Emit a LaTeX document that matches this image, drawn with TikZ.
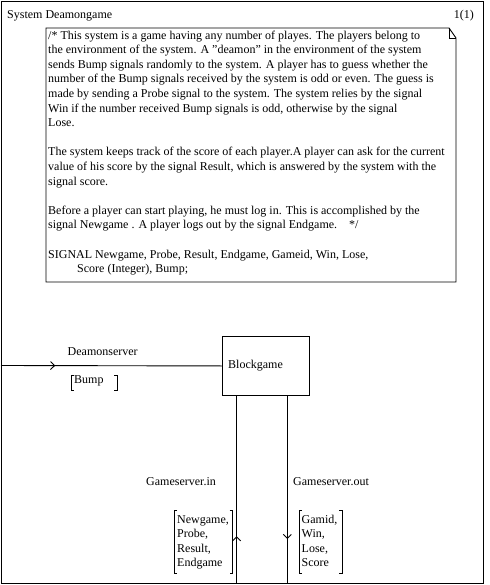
\documentclass[tikz,border=0pt]{standalone}
\usepackage{fontspec}
\setmainfont{Liberation Serif}
\usetikzlibrary{arrows.meta,positioning,decorations.markings}

\tikzset{
  sdl/.style={line width=0.9pt},
  txt/.style={inner sep=0pt, anchor=base west, align=left, font=\fontsize{12}{14.6}\selectfont},
  brk/.style={line width=0.9pt},
  chan/.style={line width=0.9pt, postaction={decorate}},
  tipat/.style={decoration={markings, mark=at position #1 with {\arrow{Straight Barb[length=4pt,width=8pt]}}}},
}

\begin{document}
\begin{tikzpicture}[x=1pt, y=-1pt]
\useasboundingbox (0,0) rectangle (489,585);
% system frame
\draw[sdl] (1,1) rectangle (483,583);
\node[txt] (sysname) at (7,19) {System Deamongame};
\node[txt, anchor=base east] (page) at (474,19) {1(1)};

% comment symbol with folded corner
\draw[sdl] (46,28) -- (449,28) -- (456,38) -- (456,282) -- (46,282) -- cycle;
\draw[sdl] (449,28) -- (449,38) -- (456,38);
% (base of a multi-line node is its last line)
\node[txt] (comment) at (48,272.6) {/* This system is a game having any number of playes. The players belong to\\
the environment of the system. A \char"22deamon\char"22{} in the environment of the system\\
sends Bump signals randomly to the system. A player has to guess whether the\\
number of the Bump signals received by the system is odd or even. The guess is\\
made by sending a Probe signal to the system. The system relies by the signal\\
Win if the number received Bump signals is odd, otherwise by the signal\\
Lose.\\[14.6pt]
The system keeps track of the score of each player.A player can ask for the current\\
value of his score by the signal Result, which is answered by the system with the\\
signal score.\\[14.6pt]
Before a player can start playing, he must log in. This is accomplished by the\\
signal Newgame . A player logs out by the signal Endgame.\hspace{12pt}*/\\[14.6pt]
SIGNAL Newgame, Probe, Result, Endgame, Gameid, Win, Lose,\\
\hspace*{29pt}Score (Integer), Bump;};

% block
\node[draw, sdl, inner sep=0pt, minimum width=87pt, minimum height=59pt, anchor=north west] (block) at (222,336) {};
\node[txt, anchor=west, right=6pt of block.west] (blockname) {Blockgame};

% channels
\coordinate (envL) at (1,365.5);
\coordinate (inB) at (236.7,583);
\coordinate (outB) at (287.3,583);
\draw[chan, tipat=0.245] (envL) -- (block.west);
\draw[chan, tipat=0.25] (inB) -- (block.south -| inB);
\draw[chan, tipat=0.765] (block.south -| outB) -- (outB);

% channel names and signal lists
\node[txt] (dsname) at (67.5,355) {Deamonserver};
\node[txt] (bump) at (74,383) {Bump};
\draw[brk] (74,375) -- (71,375) -- (71,390) -- (74,390);
\draw[brk] (114,375) -- (117,375) -- (117,390) -- (114,390);

\node[txt] (inname) at (146,485) {Gameserver.in};
\node[txt] (outname) at (293,485) {Gameserver.out};

\node[txt] (inlist) at (177,566.8) {Newgame,\\Probe,\\Result,\\Endgame};
\draw[brk] (177,510) -- (174,510) -- (174,573) -- (177,573);
\draw[brk] (229.5,510) -- (232.5,510) -- (232.5,573) -- (229.5,573);

\node[txt] (outlist) at (301.5,566.8) {Gamid,\\Win,\\Lose,\\Score};
\draw[brk] (302,510) -- (299,510) -- (299,573) -- (302,573);
\draw[brk] (339,510) -- (342,510) -- (342,573) -- (339,573);
\end{tikzpicture}
\end{document}
